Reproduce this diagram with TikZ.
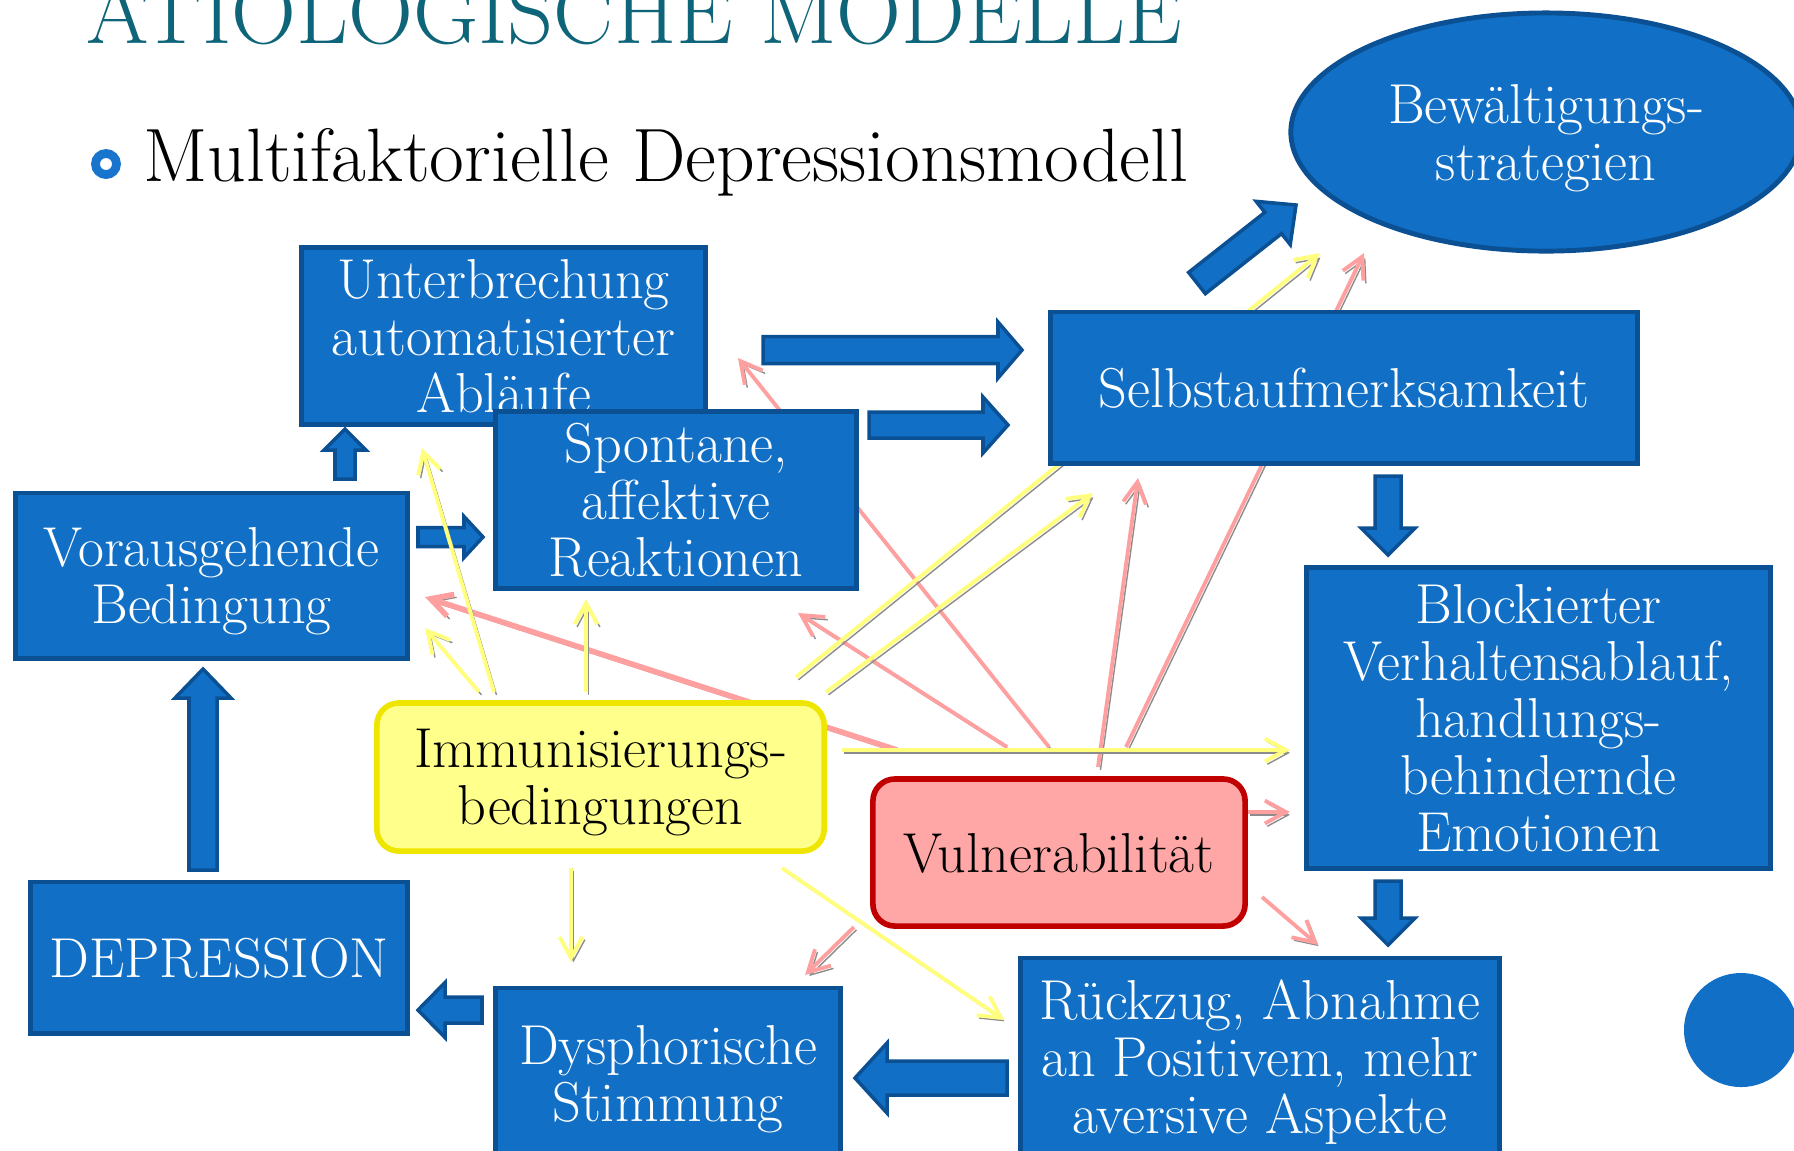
\documentclass[tikz,border=0pt]{standalone}
\usepackage{fontspec}
\usetikzlibrary{arrows.meta,calc,backgrounds,shapes.geometric}
\definecolor{boxblue}{RGB}{17,112,198}
\definecolor{boxline}{RGB}{12,80,148}
\definecolor{titleteal}{RGB}{14,100,120}
\definecolor{bulletblue}{RGB}{24,116,205}
\definecolor{immfill}{RGB}{255,255,140}
\definecolor{immline}{RGB}{238,230,0}
\definecolor{vulfill}{RGB}{255,166,166}
\definecolor{vulline}{RGB}{192,0,0}
\definecolor{ygelb}{RGB}{255,255,125}
\definecolor{prosa}{RGB}{255,160,160}
\newcommand{\nodefont}{\fontsize{16}{16.2}\selectfont}
\tikzset{
    %Define standard arrow tip
    >={Straight Barb[length=6pt,width=6.5pt]},
    %Define style for boxes
    kasten/.style={
           rectangle,
           draw=boxline, fill=boxblue,
           line width=1.4pt,
           text=white,
           font=\nodefont,
           text depth=0pt,
           align=center},
    % Define fat arrow style (shaft, head, head length)
    fat/.style n args={3}{
           draw=boxline, fill=boxblue,
           line width=1pt, line join=miter,
           to path={($(\tikztostart)!#1!90:(\tikztotarget)$)
             -- ($(\tikztotarget)!#3!(\tikztostart)!#1!90:(\tikztotarget)$)
             -- ($(\tikztotarget)!#3!(\tikztostart)!#2!90:(\tikztotarget)$)
             -- (\tikztotarget)
             -- ($(\tikztotarget)!#3!(\tikztostart)!#2!-90:(\tikztotarget)$)
             -- ($(\tikztotarget)!#3!(\tikztostart)!#1!-90:(\tikztotarget)$)
             -- ($(\tikztostart)!#1!-90:(\tikztotarget)$) -- cycle}},
    % Define thin arrow styles
    ypfeil/.style={
           ->, draw=ygelb, line width=1.1pt,
           preaction={draw=black!45, transform canvas={shift={(0.7pt,-0.8pt)}}}},
    ppfeil/.style={
           ->, draw=prosa, line width=1.1pt,
           preaction={draw=black!45, transform canvas={shift={(0.7pt,-0.8pt)}}}}
}

\begin{document}
\begin{tikzpicture}[x=0.01cm, y=-0.01cm,
rundkasten/.style={rectangle, rounded corners=0.22cm, line width=1.6pt, font=\nodefont, text depth=0pt, align=center}]
\useasboundingbox (0,0) rectangle (1794,1150);
%Heading
\node[anchor=base west, text=titleteal, font=\fontsize{25.6}{30}\selectfont] (titel) at (74,43) {ÄTIOLOGISCHE MODELLE};
\node[circle, draw=bulletblue, line width=2.5pt, minimum size=0.21cm, inner sep=0pt] (bullet) at (106,164) {};
\node[anchor=base west, font=\fontsize{21.5}{25}\selectfont] (untertitel) at (131,181) {Multifaktorielle Depressionsmodell};
%Nodes
\node[kasten, minimum width=4.03cm, minimum height=1.64cm] (unt) at (503.5,336) {Unterbrechung\\automatisierter\\Abläufe};
\node[kasten, minimum width=3.60cm, minimum height=1.66cm] (spo) at (676,500) {Spontane,\\affektive\\Reaktionen};
\node[kasten, minimum width=3.91cm, minimum height=1.65cm] (vor) at (211.5,575.5) {Vorausgehende\\Bedingung};
\node[kasten, minimum width=5.86cm, minimum height=1.51cm] (sel) at (1344,387.5) {Selbstaufmerksamkeit};
\node[kasten, minimum width=4.63cm, minimum height=3.00cm] (blo) at (1538.5,718) {Blockierter\\Verhaltensablauf,\\handlungs-\\behindernde\\Emotionen};
\node[rundkasten, draw=immline, fill=immfill, minimum width=4.47cm, minimum height=1.48cm] (imm) at (600.5,777) {Immunisierungs-\\bedingungen};
\node[rundkasten, draw=vulline, fill=vulfill, minimum width=3.72cm, minimum height=1.47cm] (vul) at (1059,852.5) {Vulnerabilität};
\node[kasten, minimum width=3.76cm, minimum height=1.51cm] (dep) at (219,957.5) {DEPRESSION};
\node[kasten, minimum width=3.44cm, minimum height=1.70cm] (dys) at (668,1073) {Dysphorische\\Stimmung};
\node[kasten, minimum width=4.79cm, minimum height=1.98cm] (rue) at (1260,1057) {Rückzug, Abnahme\\an Positivem, mehr\\aversive Aspekte};
\node[ellipse, draw=boxline, fill=boxblue, line width=1.4pt, text=white, font=\nodefont, text depth=0pt, align=center,
      minimum width=5.10cm, minimum height=2.38cm] (bew) at (1546,132) {Bewältigungs-\\strategien};
\node[circle, fill=boxblue, minimum size=1.14cm, inner sep=0pt] (punkt) at (1741,1030) {};
%Fat arrow ends
\coordinate (pf1a) at ($(vor)+(133.5,-96.5)$);
\coordinate (pf1b) at ($(unt)+(-158.5,93)$);
\coordinate (pf2a) at ($(vor)+(206.5,-38.5)$);
\coordinate (pf2b) at ($(spo)+(-193,37)$);
\coordinate (pf3a) at ($(unt)+(259.5,14)$);
\coordinate (pf3b) at ($(sel)+(-322,-37.5)$);
\coordinate (pf4a) at ($(spo)+(193,-75)$);
\coordinate (pf4b) at ($(sel)+(-336,37.5)$);
\coordinate (pf5a) at ($(sel)+(44,88.5)$);
\coordinate (pf5b) at ($(blo)+(-150.5,-163)$);
\coordinate (pf6a) at ($(blo)+(-150.5,163)$);
\coordinate (pf6b) at ($(rue)+(128,-112)$);
\coordinate (pf7a) at ($(rue)+(-253,21)$);
\coordinate (pf7b) at ($(dys)+(187,5)$);
\coordinate (pf8a) at ($(dys)+(-186,-63)$);
\coordinate (pf8b) at ($(dep)+(199,52.5)$);
\coordinate (pf9a) at ($(dep)+(-16,-87.5)$);
\coordinate (pf9b) at ($(vor)+(-8.5,93.5)$);
\coordinate (pf10a) at ($(sel)+(-147,-104.5)$);
\coordinate (pf10b) at ($(bew)+(-250,73)$);
\begin{pgfonlayer}{background}
%Fat arrows
\draw[fat={0.10cm}{0.21cm}{0.21cm}] (pf1a) to (pf1b);
\draw[fat={0.095cm}{0.205cm}{0.19cm}] (pf2a) to (pf2b);
\draw[fat={0.135cm}{0.28cm}{0.24cm}] (pf3a) to (pf3b);
\draw[fat={0.13cm}{0.28cm}{0.25cm}] (pf4a) to (pf4b);
\draw[fat={0.13cm}{0.27cm}{0.27cm}] (pf5a) to (pf5b);
\draw[fat={0.13cm}{0.27cm}{0.27cm}] (pf6a) to (pf6b);
\draw[fat={0.17cm}{0.35cm}{0.32cm}] (pf7a) to (pf7b);
\draw[fat={0.13cm}{0.275cm}{0.27cm}] (pf8a) to (pf8b);
\draw[fat={0.14cm}{0.28cm}{0.29cm}] (pf9a) to (pf9b);
\draw[fat={0.135cm}{0.275cm}{0.29cm}] (pf10a) to (pf10b);
%Vulnerability arrows
\draw[ppfeil] ($(vul)+(-10,-105.5)$) -- ($(unt)+(234.5,22)$);
\draw[ppfeil] ($(vul)+(-52,-105.5)$) -- ($(spo)+(122,113)$);
\draw[ppfeil, line width=1.6pt] ($(vul)+(-162,-102.5)$) -- ($(vor)+(213.5,21.5)$);
\draw[ppfeil] ($(vul)+(39,-85.5)$) -- ($(sel)+(-206,90.5)$);
\draw[ppfeil] ($(vul)+(67,-105.5)$) -- ($(bew)+(-182,121)$);
\draw[ppfeil] ($(vul)+(189,-40.5)$) -- ($(blo)+(-248.5,94)$);
\draw[ppfeil] ($(vul)+(203,44.5)$) -- ($(rue)+(58,-112)$);
\draw[ppfeil] ($(vul)+(-205,74.5)$) -- ($(dys)+(137,-98)$);
%Immunisation arrows
\draw[ypfeil] ($(imm)+(-106.5,-85)$) -- ($(unt)+(-81.5,112)$);
\draw[ypfeil] ($(imm)+(-121.5,-85)$) -- ($(vor)+(213.5,52.5)$);
\draw[ypfeil] ($(imm)+(-14.5,-85)$) -- ($(spo)+(-90,99)$);
\draw[ypfeil] ($(imm)+(225.5,-85)$) -- ($(sel)+(-251,105.5)$);
\draw[ypfeil] ($(imm)+(195.5,-100)$) -- ($(bew)+(-226,121)$);
\draw[ypfeil] ($(imm)+(241.5,-27)$) -- ($(blo)+(-248.5,32)$);
\draw[ypfeil] ($(imm)+(-29.5,91)$) -- ($(dys)+(-97,-111)$);
\draw[ypfeil] ($(imm)+(181.5,91)$) -- ($(rue)+(-256,-37)$);
\end{pgfonlayer}
\end{tikzpicture}
\end{document}
